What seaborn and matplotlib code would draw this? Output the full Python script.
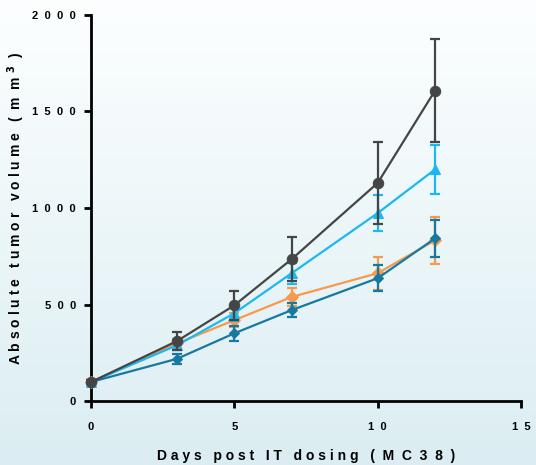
import numpy as np
import pandas as pd
import seaborn as sns
import matplotlib.pyplot as plt

days = [0, 3, 5, 7, 10, 12]

# group means (mm3) and SEM
gray_mean = [100, 312, 497, 736, 1130, 1608]
gray_err = [8, 45, 75, 112, 212, 268]
blue_mean = [100, 290, 456, 663, 974, 1200]
blue_err = [8, 25, 40, 55, 95, 125]
orange_mean = [100, 300, 420, 540, 663, 833]
orange_err = [8, 25, 35, 45, 85, 120]
teal_mean = [100, 220, 352, 472, 637, 843]
teal_err = [8, 25, 38, 38, 68, 95]

groups = ['gray', 'blue', 'orange', 'teal']
colors = {'gray': '#454545', 'blue': '#1cb8f2', 'orange': '#f79a4b', 'teal': '#17799f'}
markers = {'gray': 'o', 'blue': '^', 'orange': 'D', 'teal': 'D'}
msizes = {'gray': 7.5, 'blue': 7, 'orange': 6.5, 'teal': 5.5}

means = {'gray': gray_mean, 'blue': blue_mean, 'orange': orange_mean, 'teal': teal_mean}
errs = {'gray': gray_err, 'blue': blue_err, 'orange': orange_err, 'teal': teal_err}

df = pd.DataFrame([
    {'day': d, 'volume': m, 'err': e, 'group': g}
    for g in groups for d, m, e in zip(days, means[g], errs[g])
])

plt.rcParams['font.family'] = ['Liberation Sans', 'DejaVu Sans']
plt.rcParams['font.weight'] = 'bold'

fig = plt.figure(figsize=(5.36, 4.65), dpi=100)

# gradient background
bg = fig.add_axes([0, 0, 1, 1], zorder=-10)
grad = np.linspace(0, 1, 256).reshape(-1, 1)
top = np.array([0.99, 1.0, 1.0])
bot = np.array([0.86, 0.93, 0.95])
img = top[None, None, :] * (1 - grad[:, :, None]) + bot[None, None, :] * grad[:, :, None]
bg.imshow(img, aspect='auto', extent=[0, 1, 0, 1])
bg.axis('off')

ax = fig.add_axes([0.170, 0.137, 0.802, 0.831])
ax.patch.set_alpha(0)

draw_order = ['orange', 'blue', 'teal', 'gray']
for z, g in enumerate(draw_order):
    sub = df[df['group'] == g]
    ax.errorbar(sub['day'], sub['volume'], yerr=sub['err'], fmt='none',
                ecolor=colors[g], elinewidth=1.6, capsize=3.5, capthick=1.6,
                zorder=3 + z, clip_on=False)
    sns.lineplot(data=sub, x='day', y='volume', color=colors[g], marker=markers[g],
                 markersize=msizes[g], markeredgecolor=colors[g], linewidth=1.6,
                 ax=ax, zorder=3 + z, legend=False, clip_on=False)

ax.set_xlim(0, 15)
ax.set_ylim(0, 2000)
ax.set_xticks([0, 5, 10, 15])
ax.set_xticklabels(['0', '5', '1  0', '1  5'])
ax.set_yticks([0, 500, 1000, 1500, 2000])
ax.set_yticklabels(['0', '5  0  0', '1  0  0  0', '1  5  0  0', '2  0  0  0'])
ax.tick_params(axis='both', labelsize=8, width=2, length=5, colors='black', pad=6)
ax.tick_params(axis='x', pad=10)
for s in ['top', 'right']:
    ax.spines[s].set_visible(False)
for s in ['left', 'bottom']:
    ax.spines[s].set_linewidth(2)

ax.set_xlabel('D a y s   p o s t   I T   d o s i n g   (  M  C  3  8  )', fontsize=10,
              fontweight='bold', labelpad=12)
ax.set_ylabel('A b s o l u t e   t u m o r   v o l u m e   (  m  m $^{3}$  )', fontsize=10,
              fontweight='bold')
ax.yaxis.set_label_coords(-0.148, 0.5)

fig.savefig('out.png', dpi=100)
